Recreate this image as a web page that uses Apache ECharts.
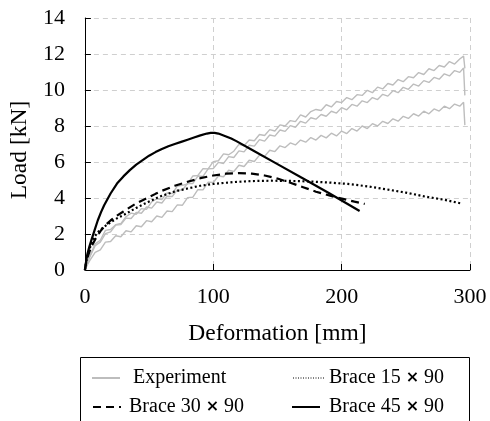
<!DOCTYPE html>
<html><head><meta charset="utf-8">
<script src="https://cdn.jsdelivr.net/npm/echarts@6/dist/echarts.min.js"></script>
<style>html,body{margin:0;padding:0;background:#fff}#c{width:490px;height:421px}</style>
</head><body><div id="c"></div>
<script>
// ---- data ----
var xTicks = [0, 100, 200, 300];
var yTicks = [0, 2, 4, 6, 8, 10, 12, 14];
var seriesNames = ['Experiment', 'Brace 15×90', 'Brace 30×90', 'Brace 45×90'];

var expUpper = [[0,0],[2,0.5],[4,0.8],[8,1.45],[12,1.65],[16,2.2],[20,2.25],[24,2.52],[28,2.58],[32,2.96],[36,3.16],[40,3.1],[44,3.41],[48,3.37],[52,3.78],[56,3.96],[60,3.92],[64,4.28],[68,4.24],[72,4.66],[76,4.7],[80,4.78],[84,5.22],[88,5.25],[92,5.63],[96,5.62],[100,6.02],[104,6.07],[108,6.45],[112,6.4],[116,6.6],[120,6.98],[124,6.9],[128,7.22],[132,7.18],[136,7.53],[140,7.47],[144,7.8],[148,7.72],[152,8.06],[156,8.0],[160,8.3],[164,8.24],[168,8.62],[172,8.5],[176,8.8],[180,8.92],[184,8.86],[188,9.18],[192,9.06],[196,9.36],[200,9.3],[204,9.58],[208,9.46],[212,9.74],[216,9.7],[220,9.98],[224,9.85],[228,10.16],[232,10.06],[236,10.36],[240,10.28],[244,10.58],[248,10.46],[252,10.74],[256,10.68],[260,10.97],[264,10.86],[268,11.18],[272,11.08],[276,11.36],[280,11.28],[284,11.58],[288,11.44],[292,11.72],[295,11.88],[296,11.8],[296,11.2]];
var expMiddle = [[0,0],[2,0.4],[4,0.75],[8,1.35],[12,1.55],[16,2.02],[20,2.12],[24,2.5],[28,2.52],[32,2.88],[36,2.86],[40,3.2],[44,3.15],[48,3.5],[52,3.44],[56,3.78],[60,3.72],[64,4.1],[68,4.08],[72,4.46],[76,4.44],[80,4.82],[84,4.8],[88,5.22],[92,5.2],[96,5.62],[100,5.64],[104,5.98],[108,5.92],[112,6.3],[116,6.25],[120,6.62],[124,6.56],[128,6.93],[132,6.88],[136,7.24],[140,7.16],[144,7.5],[148,7.44],[152,7.78],[156,7.7],[160,8.02],[164,7.93],[168,8.26],[172,8.16],[176,8.46],[180,8.38],[184,8.64],[188,8.54],[192,8.82],[196,8.72],[200,9.02],[204,8.9],[208,9.2],[212,9.1],[216,9.4],[220,9.3],[224,9.58],[228,9.47],[232,9.76],[236,9.66],[240,9.96],[244,9.85],[248,10.15],[252,10.04],[256,10.33],[260,10.22],[264,10.52],[268,10.42],[272,10.7],[276,10.6],[280,10.9],[284,10.78],[288,11.08],[292,10.98],[295,11.22],[296,11.15],[296,9.7]];
var expLower = [[0,0],[2,0.3],[4,0.55],[8,0.98],[12,1.12],[16,1.55],[20,1.58],[24,1.9],[28,1.85],[32,2.18],[36,2.12],[40,2.46],[44,2.4],[48,2.74],[52,2.68],[56,3.0],[60,2.92],[64,3.28],[68,3.24],[72,3.62],[76,3.6],[80,4.02],[84,4.04],[88,4.46],[92,4.45],[96,4.88],[100,4.86],[104,5.22],[108,5.18],[112,5.54],[116,5.47],[120,5.82],[124,5.75],[128,6.1],[132,6.03],[136,6.38],[140,6.31],[144,6.65],[148,6.58],[152,6.9],[156,6.8],[160,7.06],[164,6.95],[168,7.22],[172,7.1],[176,7.36],[180,7.22],[184,7.48],[188,7.34],[192,7.6],[196,7.45],[200,7.72],[204,7.58],[208,7.86],[212,7.72],[216,8.0],[220,7.86],[224,8.13],[228,8.0],[232,8.26],[236,8.14],[240,8.4],[244,8.27],[248,8.54],[252,8.42],[256,8.68],[260,8.55],[264,8.82],[268,8.68],[272,8.95],[276,8.83],[280,9.1],[284,8.96],[288,9.22],[292,9.1],[295,9.32],[296,9.25],[296,8.05]];

var brace15 = [[0,0],[1,0.45],[2,0.8],[3.5,1.15],[5,1.45],[7.5,1.85],[10,2.1],[15,2.4],[20,2.65],[25,2.87],[30,3.05],[35,3.25],[40,3.45],[45,3.63],[50,3.8],[55,3.97],[60,4.12],[70,4.36],[80,4.53],[90,4.68],[100,4.78],[115,4.88],[130,4.94],[145,4.96],[160,4.95],[175,4.92],[190,4.86],[205,4.78],[220,4.65],[235,4.48],[250,4.3],[265,4.08],[280,3.9],[293,3.7]];
var brace30 = [[0,0],[1,0.4],[2,0.7],[3.5,1.0],[5,1.3],[8,1.7],[12,2.15],[16,2.5],[20,2.75],[25,3.02],[30,3.25],[35,3.48],[40,3.7],[45,3.88],[50,4.05],[55,4.23],[60,4.4],[70,4.68],[80,4.9],[90,5.1],[100,5.25],[110,5.35],[120,5.38],[130,5.35],[140,5.25],[150,5.08],[160,4.85],[170,4.6],[180,4.35],[195,4.05],[210,3.8],[218,3.67]];
var brace45 = [[0,0],[1,0.5],[2,0.9],[3.5,1.3],[5,1.65],[7.5,2.2],[10,2.75],[12.5,3.2],[15,3.6],[20,4.25],[25,4.8],[30,5.2],[35,5.55],[40,5.85],[45,6.1],[50,6.35],[55,6.55],[60,6.72],[65,6.87],[70,7.0],[75,7.12],[80,7.24],[85,7.36],[90,7.48],[95,7.58],[98,7.62],[101,7.62],[104,7.58],[107,7.5],[110,7.42],[114,7.3],[118,7.16],[130,6.68],[150,5.88],[170,5.08],[190,4.28],[214,3.28]];

var FONT = 'Liberation Serif';
var chart = echarts.init(document.getElementById('c'), null, {renderer: 'canvas'});
var grey = '#bdbdbd';

function expSeries(d) {
  return {name: seriesNames[0], type: 'line', data: d, showSymbol: false, symbol: 'none',
    lineStyle: {color: grey, width: 1.4}, z: 2};
}
function braceSeries(name, d, type, z) {
  return {name: name, type: 'line', data: d, showSymbol: false, symbol: 'none',
    lineStyle: {color: '#000', width: 2.2, type: type}, z: z};
}

var option = {
  animation: false,
  backgroundColor: '#fff',
  grid: {left: 78, right: 20, top: 18, bottom: 151, containLabel: false},
  xAxis: {
    type: 'value', min: xTicks[0], max: xTicks[xTicks.length-1], interval: 100,
    name: 'Deformation [mm]', nameLocation: 'middle', nameGap: 52,
    nameTextStyle: {fontFamily: FONT, fontSize: 23.5, color: '#000'},
    axisLine: {show: true, lineStyle: {color: '#000', width: 1}},
    axisTick: {show: true, inside: true, length: 6, lineStyle: {color: '#000'}},
    axisLabel: {fontFamily: FONT, fontSize: 22, color: '#000', margin: 16},
    splitLine: {show: true, lineStyle: {color: '#cfcfcf', type: [5, 4], width: 1}}
  },
  yAxis: {
    type: 'value', min: yTicks[0], max: yTicks[yTicks.length-1], interval: 2,
    name: 'Load [kN]', nameLocation: 'middle', nameGap: 36,
    nameTextStyle: {fontFamily: FONT, fontSize: 23.5, color: '#000', padding: [0, 0, 0, -12]},
    axisLine: {show: true, lineStyle: {color: '#000', width: 1}},
    axisTick: {show: true, inside: true, length: 6, lineStyle: {color: '#000'}},
    axisLabel: {fontFamily: FONT, fontSize: 22, color: '#000', margin: 20},
    splitLine: {show: true, lineStyle: {color: '#cfcfcf', type: [5, 4], width: 1}}
  },
  series: [
    expSeries(expUpper), expSeries(expMiddle), expSeries(expLower),
    braceSeries(seriesNames[1], brace15, [2, 2.5], 3),
    braceSeries(seriesNames[2], brace30, [8, 5], 3),
    braceSeries(seriesNames[3], brace45, 'solid', 4)
  ],
  graphic: [
    {type: 'rect', shape: {x: 80.5, y: 357.5, width: 389, height: 80}, style: {fill: '#fff', stroke: '#000', lineWidth: 1}, z: 10},
    {type: 'line', shape: {x1: 92, y1: 378, x2: 120, y2: 378}, style: {stroke: grey, lineWidth: 2}, z: 11},
    {type: 'text', x: 133, y: 378, style: {text: seriesNames[0], font: '20px "Liberation Serif"', fill: '#000', verticalAlign: 'middle'}, z: 11},
    {type: 'line', shape: {x1: 293, y1: 378, x2: 325, y2: 378}, style: {stroke: '#000', lineWidth: 1, lineDash: [1, 1.5]}, z: 11},
    {type: 'text', x: 329, y: 378, style: {text: 'Brace 15 {m|×} 90', font: '20px "Liberation Serif"', fill: '#000', verticalAlign: 'middle',
      rich: {m: {fontFamily: 'DejaVu Sans', fontWeight: 'bold', fontSize: 16, fill: '#000'}}}, z: 11},
    {type: 'line', shape: {x1: 93, y1: 407, x2: 121, y2: 407}, style: {stroke: '#000', lineWidth: 2, lineDash: [8, 5]}, z: 11},
    {type: 'text', x: 129, y: 407, style: {text: 'Brace 30 {m|×} 90', font: '20px "Liberation Serif"', fill: '#000', verticalAlign: 'middle',
      rich: {m: {fontFamily: 'DejaVu Sans', fontWeight: 'bold', fontSize: 16, fill: '#000'}}}, z: 11},
    {type: 'line', shape: {x1: 292, y1: 407, x2: 320, y2: 407}, style: {stroke: '#000', lineWidth: 2}, z: 11},
    {type: 'text', x: 329, y: 407, style: {text: 'Brace 45 {m|×} 90', font: '20px "Liberation Serif"', fill: '#000', verticalAlign: 'middle',
      rich: {m: {fontFamily: 'DejaVu Sans', fontWeight: 'bold', fontSize: 16, fill: '#000'}}}, z: 11}
  ]
};
chart.setOption(option);
</script>
</body></html>
